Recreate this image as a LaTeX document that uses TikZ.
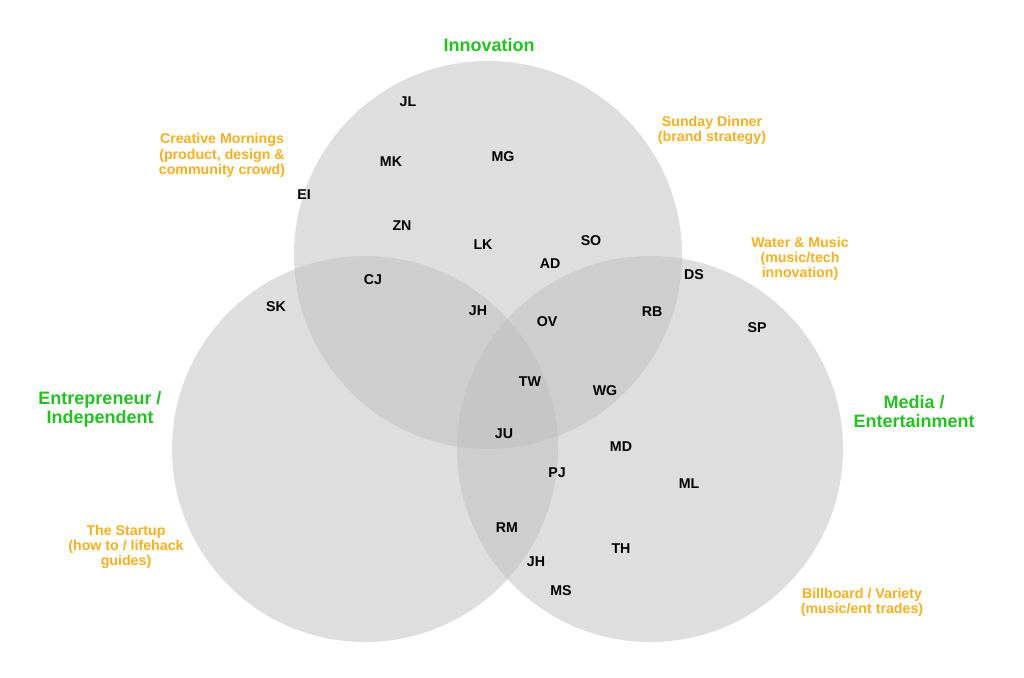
\documentclass[tikz,border=0pt]{standalone}
\usepackage{fontspec}
\setmainfont{Liberation Sans}
\definecolor{cgray}{RGB}{191,191,191}
\definecolor{lgreen}{RGB}{36,192,36}
\definecolor{lorange}{RGB}{245,176,35}
\tikzset{
  setcircle/.style={fill=cgray, fill opacity=0.5, draw=none},
  person/.style={font=\fontsize{14.2}{16}\selectfont\bfseries, text=black, inner sep=0pt},
  setlabel/.style={font=\fontsize{18}{18.5}\selectfont\bfseries, text=lgreen, align=center, inner sep=0pt},
  medialabel/.style={font=\fontsize{14.2}{15.2}\selectfont\bfseries, text=lorange, align=center, inner sep=0pt}
}
\begin{document}
\begin{tikzpicture}[x=1pt,y=-1pt]
\useasboundingbox (0,0) rectangle (1024,677);
\fill[white] (0,0) rectangle (1024,677);
% circles
\path[setcircle] (488,255) circle[radius=194pt];
\path[setcircle] (365,449) circle[radius=193pt];
\path[setcircle] (650,449) circle[radius=193pt];
% set labels
\node[setlabel] (innov) at (489,45) {Innovation};
\node[setlabel] (entre) at (100,409.5) {Entrepreneur /\\Independent};
\node[setlabel] (media) at (914,411.5) {Media /\\Entertainment};
% media labels
\node[medialabel] (cm) at (222,155.5) {Creative Mornings\\(product, design \&\\community crowd)};
\node[medialabel] (sd) at (712,130) {Sunday Dinner\\(brand strategy)};
\node[medialabel] (wm) at (800,259) {Water \& Music\\(music/tech\\innovation)};
\node[medialabel] (st) at (126,547) {The Startup\\(how to / lifehack\\guides)};
\node[medialabel] (bb) at (862,602) {Billboard / Variety\\(music/ent trades)};
% people
\node[person] (jl) at (408,102) {JL};
\node[person] (mk) at (391,162) {MK};
\node[person] (mg) at (503,157) {MG};
\node[person] (ei) at (304,195) {EI};
\node[person] (zn) at (402,226) {ZN};
\node[person] (lk) at (483,245) {LK};
\node[person] (so) at (591,241) {SO};
\node[person] (ad) at (550,264) {AD};
\node[person] (cj) at (373,280) {CJ};
\node[person] (sk) at (276,307) {SK};
\node[person] (jh) at (478,311) {JH};
\node[person] (ov) at (547,322) {OV};
\node[person] (ds) at (694,275) {DS};
\node[person] (rb) at (652,312) {RB};
\node[person] (sp) at (757,328) {SP};
\node[person] (tw) at (530,382) {TW};
\node[person] (wg) at (605,391) {WG};
\node[person] (ju) at (504,434) {JU};
\node[person] (md) at (621,447) {MD};
\node[person] (pj) at (557,473) {PJ};
\node[person] (ml) at (689,484) {ML};
\node[person] (rm) at (507,528) {RM};
\node[person] (th) at (621,549) {TH};
\node[person] (jh2) at (536,562) {JH};
\node[person] (ms) at (561,591) {MS};
\end{tikzpicture}
\end{document}
